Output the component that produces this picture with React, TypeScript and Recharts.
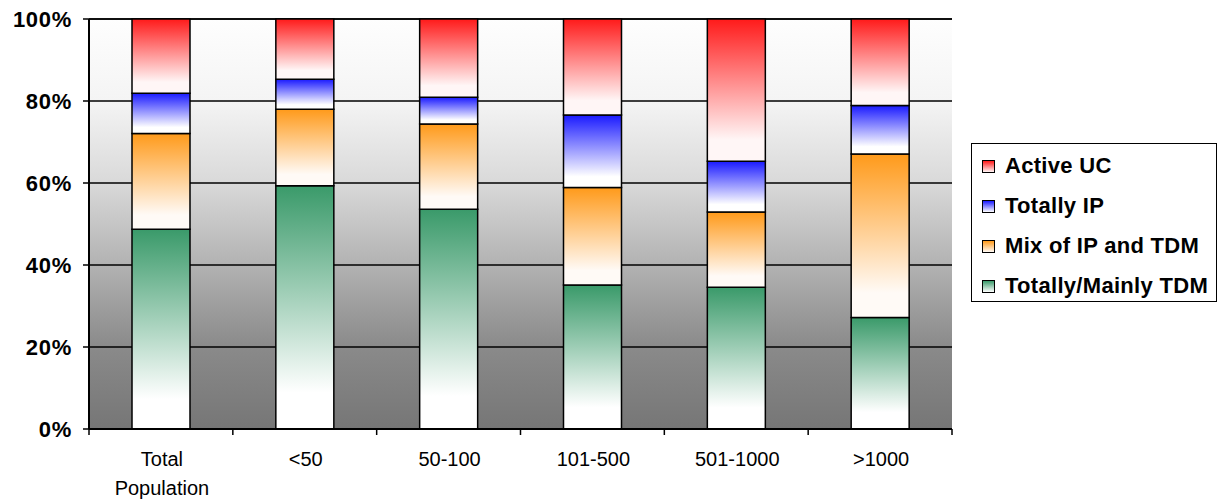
import { Bar, BarChart, CartesianGrid, XAxis, YAxis } from 'recharts';

const categories = ['Total Population', '<50', '50-100', '101-500', '501-1000', '>1000'];
const totallyMainlyTdm = [48.7, 59.3, 53.6, 35.1, 34.6, 27.2];
const mixIpTdm = [23.4, 18.7, 20.8, 23.8, 18.3, 39.9];
const totallyIp = [9.8, 7.3, 6.5, 17.7, 12.4, 11.8];
const activeUc = [18.1, 14.7, 19.1, 23.4, 34.7, 21.1];
const yTicks = [0, 20, 40, 60, 80, 100];

const series = [
  { key: 'tdm', name: 'Totally/Mainly TDM', top: '#3a9a6a', bottom: '#ffffff' },
  { key: 'mix', name: 'Mix of IP and TDM', top: '#ff9a1a', bottom: '#fffaf6' },
  { key: 'ip', name: 'Totally IP', top: '#1a1aff', bottom: '#ffffff' },
  { key: 'uc', name: 'Active UC', top: '#ff1a1a', bottom: '#fff6f6' },
];

const data = categories.map((name, i) => ({
  name,
  tdm: totallyMainlyTdm[i],
  mix: mixIpTdm[i],
  ip: totallyIp[i],
  uc: activeUc[i],
}));

const FONT = "Arial, 'Liberation Sans', sans-serif";

const XTick = (props: any) => {
  const { x, y, payload, index } = props;
  const half = payload.offset ?? 0;
  const lines = String(payload.value) === 'Total Population' ? ['Total', 'Population'] : [String(payload.value)];
  return (
    <g>
      <line x1={x - half} x2={x - half} y1={y} y2={y + 6} stroke="#000" strokeWidth={1.5} />
      {index === categories.length - 1 && (
        <line x1={x + half} x2={x + half} y1={y} y2={y + 6} stroke="#000" strokeWidth={1.5} />
      )}
      {lines.map((l, i) => (
        <text key={l} x={x + 1} y={y + 37 + i * 29} textAnchor="middle" fontFamily={FONT} fontSize={20} fill="#000">
          {l}
        </text>
      ))}
    </g>
  );
};

const legendItems = [...series].reverse();

export default function App() {
  return (
    <div style={{ position: 'absolute', left: 0, top: 0, width: 1223, height: 500, background: '#fff' }}>
      <BarChart
        width={1223}
        height={500}
        data={data}
        margin={{ top: 19, right: 271, bottom: 0, left: 0 }}
        barSize={58}
      >
        <defs>
          <linearGradient id="plotBg" x1="0" y1="0" x2="0" y2="1">
            <stop offset="0" stopColor="#fefefe" />
            <stop offset="0.2" stopColor="#f4f4f4" />
            <stop offset="0.4" stopColor="#d9d9d9" />
            <stop offset="0.6" stopColor="#b2b2b2" />
            <stop offset="0.8" stopColor="#8a8a8a" />
            <stop offset="1" stopColor="#767676" />
          </linearGradient>
          {series.map((s) => (
            <linearGradient key={s.key} id={`g-${s.key}`} x1="0" y1="0" x2="0" y2="1">
              <stop offset="0" stopColor={s.top} />
              <stop offset="0.85" stopColor={s.bottom} />
              <stop offset="1" stopColor={s.bottom} />
            </linearGradient>
          ))}
        </defs>
        <CartesianGrid vertical={false} fill="url(#plotBg)" stroke="#000" strokeWidth={1.5} strokeOpacity={1} />
        <XAxis
          dataKey="name"
          height={71}
          interval={0}
          tickSize={0}
          tickMargin={0}
          tick={<XTick />}
          axisLine={{ stroke: '#000', strokeWidth: 2 }}
        />
        <YAxis
          width={89}
          domain={[0, 100]}
          ticks={yTicks}
          tickFormatter={(v) => `${v}%`}
          tickSize={6}
          tickMargin={11}
          tick={{ fontFamily: FONT, fontSize: 22, fontWeight: 'bold', fill: '#000', letterSpacing: 0.7 }}
          tickLine={{ stroke: '#000', strokeWidth: 1.5 }}
          axisLine={{ stroke: '#000', strokeWidth: 2 }}
        />
        <YAxis
          yAxisId="r"
          orientation="right"
          width={0}
          domain={[0, 100]}
          tick={false}
          tickLine={false}
          axisLine={{ stroke: '#888', strokeWidth: 1 }}
        />
        {series.map((s) => (
          <Bar
            key={s.key}
            dataKey={s.key}
            name={s.name}
            stackId="a"
            fill={`url(#g-${s.key})`}
            stroke="#000"
            strokeWidth={1.5}
            isAnimationActive={false}
          />
        ))}
      </BarChart>
      <div
        style={{
          position: 'absolute',
          left: 971,
          top: 143,
          width: 244,
          height: 157,
          border: '1.5px solid #000',
          background: '#fff',
          fontFamily: FONT,
          boxSizing: 'content-box',
        }}
      >
        {legendItems.map((s, i) => (
          <div
            key={s.key}
            style={{
              position: 'absolute',
              left: 10,
              top: 10 + i * 40,
              height: 24,
              display: 'flex',
              alignItems: 'center',
              whiteSpace: 'nowrap',
            }}
          >
            <span
              style={{
                display: 'inline-block',
                width: 11,
                height: 11,
                border: '1px solid #000',
                background: `linear-gradient(${s.top}, ${s.bottom})`,
                marginRight: 10,
              }}
            />
            <span style={{ fontSize: 22, fontWeight: 'bold', letterSpacing: 0.3 }}>{s.name}</span>
          </div>
        ))}
      </div>
    </div>
  );
}
